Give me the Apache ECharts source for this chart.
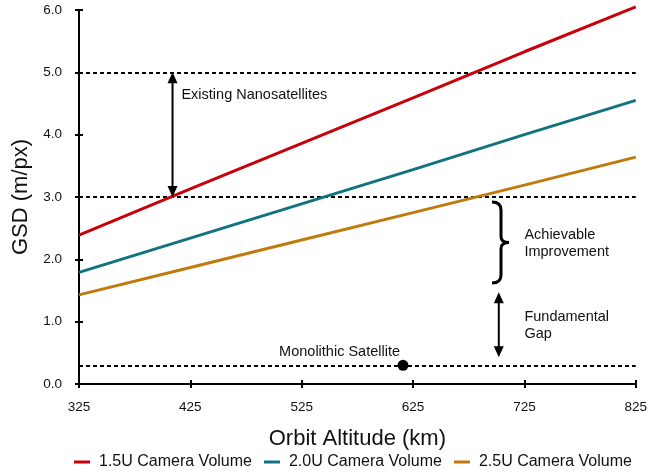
<!DOCTYPE html>
<html>
<head>
<meta charset="utf-8">
<script src="https://cdn.jsdelivr.net/npm/echarts@6/dist/echarts.min.js"></script>
<style>
html,body{margin:0;padding:0;background:#fff;}
#chart{width:650px;height:472px;}
</style>
</head>
<body>
<div id="chart"></div>
<script>
// ---- data ----
const altitudes = [325, 425, 525, 625, 725, 825];
const gsd15 = [2.39, 3.13, 3.86, 4.59, 5.33, 6.05];
const gsd20 = [1.79, 2.34, 2.89, 3.44, 4.00, 4.55];
const gsd25 = [1.43, 1.87, 2.31, 2.75, 3.19, 3.64];
const seriesNames = ['1.5U Camera Volume', '2.0U Camera Volume', '2.5U Camera Volume'];
const seriesColors = ['#c8000a', '#127380', '#c07a0c'];
const xMin = 325, xMax = 825, xStep = 100;
const yMin = 0, yMax = 6, yStep = 1;
const refLevels = [5.0, 3.0, 0.3];
const monolithicPoint = [616, 0.3];
const arrowX = [409, 702];
const arrowTop = [5.0, 1.47];
const arrowBottom = [3.0, 0.43];
const braceX = [704];
const braceTop = [2.92];
const braceBottom = [1.62];
const noteText = ['Existing Nanosatellites', 'Achievable\nImprovement', 'Fundamental\nGap', 'Monolithic Satellite'];
const noteX = [417, 725, 725, 559];
const noteY = [4.64, 2.25, 0.94, 0.51];
const noteAlign = ['left', 'left', 'left', 'center'];

// ---- build ----
const FONT = 'Liberation Sans, Arial, Helvetica, sans-serif';
const toX = a => a - xMin;
const mk = vals => altitudes.map((a, i) => [toX(a), vals[i]]);
const seriesVals = [gsd15, gsd20, gsd25];

const chart = echarts.init(document.getElementById('chart'), null, {renderer: 'canvas'});

const baseX = {
  type: 'value', min: 0, max: xMax - xMin, interval: xStep, position: 'bottom',
  splitLine: {show: false}
};
const baseY = {
  type: 'value', min: yMin, max: yMax, interval: yStep, position: 'left',
  splitLine: {show: false}
};

const lineSeries = seriesNames.map((n, i) => ({
  name: n, type: 'line', data: mk(seriesVals[i]), symbol: 'none', clip: false,
  lineStyle: {color: seriesColors[i], width: 3}, itemStyle: {color: seriesColors[i]},
  z: 3, silent: true
}));

const option = {
  backgroundColor: '#fff',
  animation: false,
  grid: {left: 79, right: 8, top: 10, bottom: 88, containLabel: false},
  xAxis: [
    Object.assign({}, baseX, {
      name: 'Orbit Altitude (km)', nameLocation: 'middle', nameGap: 44,
      nameTextStyle: {fontSize: 22, color: '#111', fontFamily: FONT},
      axisLine: {show: true, onZero: false, lineStyle: {color: '#000', width: 2}},
      axisTick: {show: true, inside: false, length: 4, lineStyle: {color: '#000', width: 2}},
      axisLabel: {margin: 16, fontSize: 13.5, color: '#111', fontFamily: FONT,
        formatter: v => String(v + xMin)}
    }),
    Object.assign({}, baseX, {
      axisLine: {show: false, onZero: false},
      axisTick: {show: true, inside: true, length: 4, lineStyle: {color: '#000', width: 2}},
      axisLabel: {show: false}
    })
  ],
  yAxis: [
    Object.assign({}, baseY, {
      name: 'GSD (m/px)', nameLocation: 'middle', nameGap: 46, nameRotate: 90,
      nameTextStyle: {fontSize: 22, color: '#111', fontFamily: FONT},
      axisLine: {show: true, onZero: false, lineStyle: {color: '#000', width: 2}},
      axisTick: {show: true, inside: false, length: 4, lineStyle: {color: '#000', width: 2}},
      axisLabel: {margin: 17, fontSize: 13.5, color: '#111', fontFamily: FONT,
        formatter: v => v.toFixed(1)}
    }),
    Object.assign({}, baseY, {
      axisLine: {show: false, onZero: false},
      axisTick: {show: true, inside: true, length: 4, lineStyle: {color: '#000', width: 2}},
      axisLabel: {show: false}
    })
  ],
  legend: {
    data: seriesNames, left: 69, top: 449, itemWidth: 16, itemHeight: 3, itemGap: 12,
    icon: 'rect',
    textStyle: {fontSize: 16, color: '#111', fontFamily: FONT, padding: [0, 0, 0, 4]}
  },
  series: lineSeries.concat([
    {
      name: 'Monolithic', type: 'scatter', data: [[toX(monolithicPoint[0]), monolithicPoint[1]]],
      symbol: 'circle', symbolSize: 11, itemStyle: {color: '#000', opacity: 1}, z: 5, silent: true,
      markLine: {
        silent: true, symbol: ['none', 'none'], label: {show: false},
        lineStyle: {color: '#000', width: 2, type: [4, 3]},
        data: refLevels.map(v => ({yAxis: v})), z: 2
      }
    },
    {
      name: 'arrows', type: 'custom', silent: true, z: 4,
      data: arrowX.map((x, i) => [toX(x), arrowTop[i], arrowBottom[i]]),
      encode: {x: 0, y: [1, 2]},
      renderItem: function (params, api) {
        const x = api.value(0);
        const p1 = api.coord([x, api.value(1)]);
        const p2 = api.coord([x, api.value(2)]);
        const hl = 11, hw = 5;
        return {
          type: 'group', children: [
            {type: 'line', shape: {x1: p1[0], y1: p1[1] + hl - 1, x2: p2[0], y2: p2[1] - hl + 1},
              style: {stroke: '#000', lineWidth: 2}},
            {type: 'polygon', shape: {points: [[p1[0], p1[1]], [p1[0] - hw, p1[1] + hl], [p1[0] + hw, p1[1] + hl]]},
              style: {fill: '#000'}},
            {type: 'polygon', shape: {points: [[p2[0], p2[1]], [p2[0] - hw, p2[1] - hl], [p2[0] + hw, p2[1] - hl]]},
              style: {fill: '#000'}}
          ]
        };
      }
    },
    {
      name: 'brace', type: 'custom', silent: true, z: 4,
      data: braceX.map((x, i) => [toX(x), braceTop[i], braceBottom[i]]),
      encode: {x: 0, y: [1, 2]},
      renderItem: function (params, api) {
        const x = api.value(0);
        const pt = api.coord([x, api.value(1)]);
        const pb = api.coord([x, api.value(2)]);
        const X = pt[0], yt = pt[1], yb = pb[1], ym = (yt + yb) / 2;
        const d = 'M' + (X - 9) + ' ' + yt +
          ' Q' + X + ' ' + yt + ' ' + X + ' ' + (yt + 8) +
          ' L' + X + ' ' + (ym - 6) +
          ' Q' + X + ' ' + ym + ' ' + (X + 8) + ' ' + ym +
          ' Q' + X + ' ' + ym + ' ' + X + ' ' + (ym + 6) +
          ' L' + X + ' ' + (yb - 8) +
          ' Q' + X + ' ' + yb + ' ' + (X - 9) + ' ' + yb;
        return {type: 'path', shape: {pathData: d},
          style: {stroke: '#000', lineWidth: 3, fill: null}};
      }
    },
    {
      name: 'notes', type: 'custom', silent: true, z: 6,
      data: noteX.map((x, i) => [toX(x), noteY[i], i]),
      encode: {x: 0, y: 1},
      renderItem: function (params, api) {
        const p = api.coord([api.value(0), api.value(1)]);
        const i = api.value(2);
        return {type: 'text', x: p[0], y: p[1],
          style: {text: noteText[i], fontSize: 14.5, fontFamily: FONT, fill: '#111',
            align: noteAlign[i], verticalAlign: 'middle', lineHeight: 17}};
      }
    }
  ])
};
chart.setOption(option);
</script>
</body>
</html>
